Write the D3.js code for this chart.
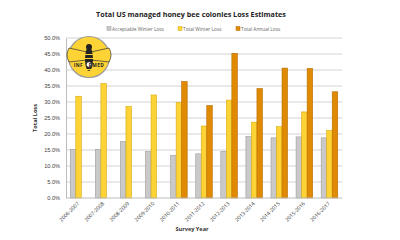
<!DOCTYPE html>
<html>
<head>
<meta charset="utf-8">
<script src="https://cdn.jsdelivr.net/npm/d3@7"></script>
<style>
  body { margin: 0; background: #fff; }
  svg { display: block; font-family: "Open Sans", "DejaVu Sans", sans-serif; }
</style>
</head>
<body>
<div id="wrapper"></div>
<script>
const years = ["2006-2007", "2007-2008", "2008-2009", "2009-2010", "2010-2011", "2011-2012",
  "2012-2013", "2013-2014", "2014-2015", "2015-2016", "2016-2017"]
const acceptableLoss = [15.1, 15.1, 17.6, 14.5, 13.3, 13.8, 14.6, 19.2, 18.8, 19.1, 18.8]
const winterLoss = [31.8, 35.8, 28.6, 32.2, 29.9, 22.5, 30.6, 23.7, 22.3, 26.9, 21.1]
const annualLoss = [null, null, null, null, 36.4, 28.9, 45.2, 34.2, 40.6, 40.5, 33.2]
const seriesNames = ["Acceptable Winter Loss", "Total Winter Loss", "Total Annual Loss"]
const yTicks = [0, 5, 10, 15, 20, 25, 30, 35, 40, 45, 50]

function drawChart() {
  const dimensions = {
    width: 400,
    height: 240,
    margin: { top: 38, right: 58, bottom: 42, left: 66 },
  }
  dimensions.boundedWidth = dimensions.width - dimensions.margin.left - dimensions.margin.right
  dimensions.boundedHeight = dimensions.height - dimensions.margin.top - dimensions.margin.bottom

  const svg = d3.select("#wrapper")
    .append("svg")
      .attr("width", dimensions.width)
      .attr("height", dimensions.height)

  const bounds = svg.append("g")
      .attr("transform", `translate(${dimensions.margin.left}, ${dimensions.margin.top})`)

  const series = [acceptableLoss, winterLoss, annualLoss]
  const fills = ["#c9c9c9", "#fdd335", "#e08a04"]
  const strokes = ["#9c9c9c", "#d9aa10", "#b86d00"]

  const xScale = d3.scaleBand()
    .domain(years)
    .range([0, dimensions.boundedWidth])
    .paddingInner(0.34)
    .paddingOuter(0.17)

  const subScale = d3.scaleBand()
    .domain([0, 1, 2])
    .range([0, xScale.bandwidth()])

  const yScale = d3.scaleLinear()
    .domain([0, 50])
    .range([dimensions.boundedHeight, 0])

  // gridlines
  bounds.selectAll(".grid")
    .data(yTicks.slice(1))
    .join("line")
      .attr("x1", 0)
      .attr("x2", dimensions.boundedWidth)
      .attr("y1", d => yScale(d))
      .attr("y2", d => yScale(d))
      .attr("stroke", "#c8c8c8")
      .attr("stroke-width", 0.8)

  // y axis
  const yAxis = d3.axisLeft(yScale)
    .tickValues(yTicks)
    .tickFormat(d => d.toFixed(1) + "%")
    .tickSize(0)
    .tickPadding(6)
  const yAxisGroup = bounds.append("g").call(yAxis)
  yAxisGroup.select(".domain").attr("stroke", "#bdbdbd")
  yAxisGroup.selectAll("text")
    .attr("font-size", 5.6)
    .attr("fill", "#444")

  // bars
  series.forEach((values, i) => {
    const data = years.map((y, j) => ({ year: y, value: values[j] })).filter(d => d.value != null)
    bounds.append("g")
      .selectAll("rect")
      .data(data)
      .join("rect")
        .attr("x", d => xScale(d.year) + subScale(i))
        .attr("y", d => yScale(d.value))
        .attr("width", subScale.bandwidth())
        .attr("height", d => dimensions.boundedHeight - yScale(d.value))
        .attr("fill", fills[i])
        .attr("stroke", strokes[i])
        .attr("stroke-width", 0.6)
  })

  // x axis
  const xAxisGroup = bounds.append("g")
      .attr("transform", `translate(0, ${dimensions.boundedHeight})`)
  xAxisGroup.append("line")
      .attr("x1", 0)
      .attr("x2", dimensions.boundedWidth)
      .attr("stroke", "#bdbdbd")
  xAxisGroup.selectAll("text")
    .data(years)
    .join("text")
      .attr("transform", d => `translate(${xScale(d) + xScale.bandwidth() / 2 + 1}, 6) rotate(-45)`)
      .attr("text-anchor", "end")
      .attr("font-size", 5.2)
      .attr("fill", "#333")
      .text(d => d)

  // title and axis labels
  svg.append("text")
      .attr("x", 191)
      .attr("y", 17)
      .attr("text-anchor", "middle")
      .attr("font-size", 7.2)
      .attr("font-weight", 700)
      .attr("fill", "#222")
      .text("Total US managed honey bee colonies Loss Estimates")

  svg.append("text")
      .attr("x", 192)
      .attr("y", 231)
      .attr("text-anchor", "middle")
      .attr("font-size", 5.6)
      .attr("font-weight", 700)
      .attr("fill", "#333")
      .text("Survey Year")

  svg.append("text")
      .attr("transform", `translate(37, ${dimensions.margin.top + dimensions.boundedHeight / 2}) rotate(-90)`)
      .attr("text-anchor", "middle")
      .attr("font-size", 5.6)
      .attr("font-weight", 700)
      .attr("fill", "#333")
      .text("Total Loss")

  // legend
  const legendX = [107, 178, 236]
  const legend = svg.append("g")
    .selectAll("g")
    .data(seriesNames)
    .join("g")
      .attr("transform", (d, i) => `translate(${legendX[i]}, 29)`)
  legend.append("rect")
      .attr("x", 0)
      .attr("y", -2.5)
      .attr("width", 4)
      .attr("height", 4)
      .attr("fill", (d, i) => fills[i])
      .attr("stroke", (d, i) => strokes[i])
      .attr("stroke-width", 0.5)
  legend.append("text")
      .attr("x", 5)
      .attr("y", 1.6)
      .attr("font-size", 4.8)
      .attr("fill", "#666")
      .text(d => d)

  // logo
  const logo = svg.append("g").attr("transform", "translate(89, 57)")
  logo.append("circle")
      .attr("r", 20.5)
      .attr("fill", "#fdd335")
      .attr("stroke", "#9a9a9a")
      .attr("stroke-width", 1.2)
  logo.append("path")
      .attr("d", "M-2,-5 L-20,-9 Q-24,-2 -20,5 L-2,3 Z M2,-5 L20,-9 Q24,-2 20,5 L2,3 Z")
      .attr("fill", "#fdd335")
      .attr("stroke", "#333")
      .attr("stroke-width", 0.7)
  logo.append("ellipse")
      .attr("cx", 0)
      .attr("cy", 2)
      .attr("rx", 4)
      .attr("ry", 12)
      .attr("fill", "#222")
  logo.append("circle")
      .attr("cy", -10)
      .attr("r", 3)
      .attr("fill", "#222")
  logo.selectAll(".stripe")
    .data([-3, 1, 12])
    .join("rect")
      .attr("x", -4)
      .attr("y", d => d)
      .attr("width", 8)
      .attr("height", 1)
      .attr("fill", "#fdd335")
  logo.append("circle")
      .attr("cy", 7.5)
      .attr("r", 2.8)
      .attr("fill", "#fff")
      .attr("stroke", "#222")
      .attr("stroke-width", 0.8)
  logo.append("text")
      .attr("y", 9.5)
      .attr("text-anchor", "middle")
      .attr("font-size", 4.8)
      .attr("font-weight", 700)
      .attr("letter-spacing", 0.4)
      .attr("fill", "#222")
      .text("INF\u2002\u2002RMED")
}

drawChart()
</script>
</body>
</html>
